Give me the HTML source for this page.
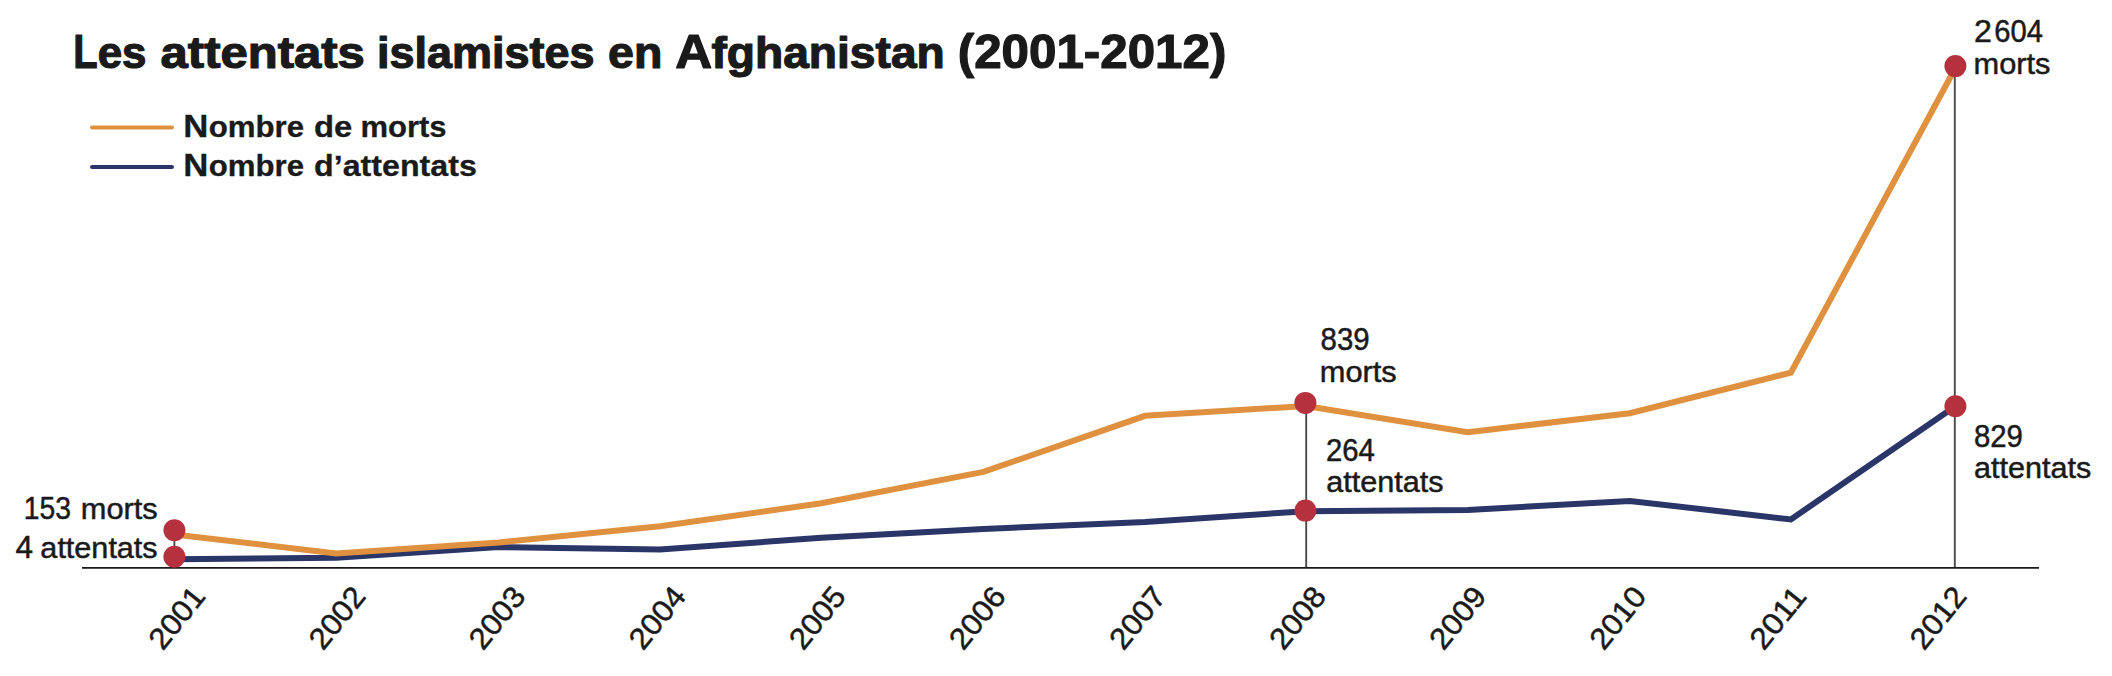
<!DOCTYPE html>
<html lang="fr">
<head>
<meta charset="utf-8">
<title>Les attentats islamistes en Afghanistan (2001-2012)</title>
<style>
html,body{margin:0;padding:0;background:#fff;}
body{width:2112px;height:676px;overflow:hidden;}
svg{display:block;}
text{font-family:"Liberation Sans",sans-serif;fill:#1a1a1a;stroke:#1a1a1a;stroke-linejoin:round;}
.title{font-weight:bold;font-size:47.2px;stroke-width:1.2px;}
.leg{font-weight:bold;font-size:29.7px;stroke-width:0.3px;}
.lab{font-size:30px;stroke-width:0.5px;}
</style>
</head>
<body>
<svg width="2112" height="676" viewBox="0 0 2112 676">
<rect width="2112" height="676" fill="#ffffff"/>
<text class="title" y="68.0"><tspan x="73.16" textLength="24.37" lengthAdjust="spacingAndGlyphs">L</tspan><tspan x="97.66" textLength="48.75" lengthAdjust="spacingAndGlyphs" font-size="44.0">es</tspan> <tspan x="160.61" textLength="204.27" lengthAdjust="spacingAndGlyphs" font-size="44.0">attentats</tspan> <tspan x="377.04" textLength="217.41" lengthAdjust="spacingAndGlyphs" font-size="44.0">islamistes</tspan> <tspan x="608.05" textLength="54.22" lengthAdjust="spacingAndGlyphs" font-size="44.0">en</tspan> <tspan x="675.18" textLength="36.93" lengthAdjust="spacingAndGlyphs">A</tspan><tspan x="711.51" textLength="233.22" lengthAdjust="spacingAndGlyphs" font-size="44.0">fghanistan</tspan> <tspan x="957.72" textLength="268.59" lengthAdjust="spacingAndGlyphs">(2001-2012)</tspan></text>
<line x1="92" y1="127.4" x2="172" y2="127.4" stroke="#e0913f" stroke-width="4" stroke-linecap="round"/>
<line x1="92" y1="167" x2="172" y2="167" stroke="#2a3568" stroke-width="4" stroke-linecap="round"/>
<text class="leg" y="136.7"><tspan x="183.34" textLength="25.10" lengthAdjust="spacingAndGlyphs" font-size="32.0">N</tspan><tspan x="208.67" textLength="95.35" lengthAdjust="spacingAndGlyphs">ombre</tspan> <tspan x="314.07" textLength="38.32" lengthAdjust="spacingAndGlyphs">de</tspan> <tspan x="360.46" textLength="86.08" lengthAdjust="spacingAndGlyphs">morts</tspan></text>
<text class="leg" y="176.4"><tspan x="183.34" textLength="25.10" lengthAdjust="spacingAndGlyphs" font-size="32.0">N</tspan><tspan x="208.67" textLength="95.35" lengthAdjust="spacingAndGlyphs">ombre</tspan> <tspan x="314.10" textLength="162.72" lengthAdjust="spacingAndGlyphs">d’attentats</tspan></text>

<line x1="174.4" y1="530" x2="174.4" y2="568" stroke="#4a4a4a" stroke-width="1.9"/>
<line x1="1306.2" y1="403" x2="1306.2" y2="568" stroke="#4a4a4a" stroke-width="1.9"/>
<line x1="1954.8" y1="66" x2="1954.8" y2="568" stroke="#4a4a4a" stroke-width="1.9"/>
<line x1="82" y1="567.9" x2="2039" y2="567.9" stroke="#1a1a1a" stroke-width="1.9"/>

<polyline fill="none" stroke="#2a3568" stroke-width="6" stroke-linejoin="miter" points="174.4,559.3 336.2,557.8 498.9,547.0 660.0,549.6 821.3,537.7 983.4,528.9 1145.2,522.0 1306.0,511.2 1467.8,510.0 1629.8,500.9 1790.9,519.4 1955.3,406.3"/>
<polyline fill="none" stroke="#e0913f" stroke-width="6" stroke-linejoin="miter" points="174.4,534.4 336.2,553.6 498.9,542.5 660.0,526.3 821.3,503.3 983.4,471.9 1145.2,415.8 1306.0,406.0 1467.8,432.2 1629.8,413.2 1790.9,372.6 1955.3,68.0"/>

<g fill="#b5313e">
<circle cx="174.4" cy="530.2" r="11"/>
<circle cx="174.4" cy="556.7" r="11"/>
<circle cx="1305.4" cy="402.9" r="11"/>
<circle cx="1305.4" cy="510.6" r="11"/>
<circle cx="1955.4" cy="66.1" r="11"/>
<circle cx="1955.4" cy="406.3" r="11"/>
</g>

<text class="lab" y="518.8"><tspan x="23.75" textLength="47.23" lengthAdjust="spacingAndGlyphs" font-size="32">153</tspan> <tspan x="80.80" textLength="76.91" lengthAdjust="spacingAndGlyphs">morts</tspan></text>
<text class="lab" y="557.7"><tspan x="15.61" textLength="17.55" lengthAdjust="spacingAndGlyphs" font-size="32">4</tspan> <tspan x="40.38" textLength="117.28" lengthAdjust="spacingAndGlyphs">attentats</tspan></text>
<text class="lab" y="350.3"><tspan x="1320.59" textLength="49.06" lengthAdjust="spacingAndGlyphs" font-size="32">839</tspan></text>
<text class="lab" y="382.2"><tspan x="1319.80" textLength="76.91" lengthAdjust="spacingAndGlyphs">morts</tspan></text>
<text class="lab" y="460.6"><tspan x="1325.96" textLength="48.90" lengthAdjust="spacingAndGlyphs" font-size="32">264</tspan></text>
<text class="lab" y="491.5"><tspan x="1326.18" textLength="117.28" lengthAdjust="spacingAndGlyphs">attentats</tspan></text>
<text class="lab" y="41.9"><tspan x="1973.92" textLength="17.89" lengthAdjust="spacingAndGlyphs" font-size="32">2</tspan>&#8201;<tspan x="1994.27" textLength="48.69" lengthAdjust="spacingAndGlyphs" font-size="32">604</tspan></text>
<text class="lab" y="73.5"><tspan x="1973.50" textLength="76.91" lengthAdjust="spacingAndGlyphs">morts</tspan></text>
<text class="lab" y="446.5"><tspan x="1973.99" textLength="48.95" lengthAdjust="spacingAndGlyphs" font-size="32">829</tspan></text>
<text class="lab" y="477.8"><tspan x="1973.98" textLength="117.38" lengthAdjust="spacingAndGlyphs">attentats</tspan></text>

<text class="lab" font-size="32" transform="translate(162.8,651.4) rotate(-51.0)" textLength="70.04" lengthAdjust="spacingAndGlyphs">2001</text>
<text class="lab" font-size="32" transform="translate(322.9,651.4) rotate(-51.0)" textLength="70.04" lengthAdjust="spacingAndGlyphs">2002</text>
<text class="lab" font-size="32" transform="translate(483.0,651.4) rotate(-51.0)" textLength="70.04" lengthAdjust="spacingAndGlyphs">2003</text>
<text class="lab" font-size="32" transform="translate(643.1,651.4) rotate(-51.0)" textLength="70.04" lengthAdjust="spacingAndGlyphs">2004</text>
<text class="lab" font-size="32" transform="translate(803.2,651.4) rotate(-51.0)" textLength="70.04" lengthAdjust="spacingAndGlyphs">2005</text>
<text class="lab" font-size="32" transform="translate(963.3,651.4) rotate(-51.0)" textLength="70.04" lengthAdjust="spacingAndGlyphs">2006</text>
<text class="lab" font-size="32" transform="translate(1123.4,651.4) rotate(-51.0)" textLength="70.04" lengthAdjust="spacingAndGlyphs">2007</text>
<text class="lab" font-size="32" transform="translate(1283.5,651.4) rotate(-51.0)" textLength="70.04" lengthAdjust="spacingAndGlyphs">2008</text>
<text class="lab" font-size="32" transform="translate(1443.6,651.4) rotate(-51.0)" textLength="70.04" lengthAdjust="spacingAndGlyphs">2009</text>
<text class="lab" font-size="32" transform="translate(1603.7,651.4) rotate(-51.0)" textLength="70.04" lengthAdjust="spacingAndGlyphs">2010</text>
<text class="lab" font-size="32" transform="translate(1763.8,651.4) rotate(-51.0)" textLength="70.04" lengthAdjust="spacingAndGlyphs">2011</text>
<text class="lab" font-size="32" transform="translate(1923.9,651.4) rotate(-51.0)" textLength="70.04" lengthAdjust="spacingAndGlyphs">2012</text>

</svg>
</body>
</html>
